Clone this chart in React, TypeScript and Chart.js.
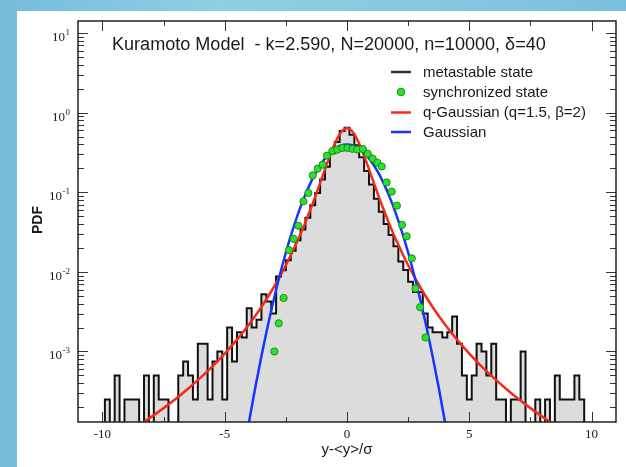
import React, { useEffect, useRef } from 'react';
import { Chart, registerables } from 'chart.js';

Chart.register(...registerables);

// ---------- data ----------
const HIST_X = [
  -10.2, -10.0, -9.8, -9.6, -9.4, -9.2, -9.0, -8.8, -8.6, -8.4, -8.2, -8.0, -7.8, -7.6, -7.4, -7.2, -7.0,
  -6.8, -6.6, -6.4, -6.2, -6.0, -5.8, -5.6, -5.4, -5.2, -5.0, -4.8, -4.6, -4.4, -4.2, -4.0, -3.8, -3.6,
  -3.4, -3.2, -3.0, -2.8, -2.6, -2.4, -2.2, -2.0, -1.8, -1.6, -1.4, -1.2, -1.0, -0.8, -0.6, -0.4, -0.2,
  0.0, 0.2, 0.4, 0.6, 0.8, 1.0, 1.2, 1.4, 1.6, 1.8, 2.0, 2.2, 2.4, 2.6, 2.8, 3.0, 3.2, 3.4, 3.6, 3.8,
  4.0, 4.2, 4.4, 4.6, 4.8, 5.0, 5.2, 5.4, 5.6, 5.8, 6.0, 6.2, 6.4, 6.6, 6.8, 7.0, 7.2, 7.4, 7.6, 7.8,
  8.0, 8.2, 8.4, 8.6, 8.8, 9.0, 9.2, 9.4, 9.6, 9.8, 10.0, 10.2,
];
const HIST_Y = [
  0, 0, 0.00025, 0, 0.0005, 0, 0.00025, 0.00025, 0.00025, 0, 0.0005, 0, 0.0005, 0.00025, 0.00025, 0, 0,
  0.0005, 0.00075, 0.0005, 0.00025, 0.00125, 0.00125, 0.00025, 0.00075, 0.001, 0.00025, 0.002, 0.00075, 0.00175, 0.0015, 0.0035, 0.002, 0.0025,
  0.00525, 0.00425, 0.003, 0.00875, 0.0105, 0.014, 0.0185, 0.025, 0.034, 0.048, 0.069, 0.098, 0.145, 0.21, 0.31, 0.43, 0.59,
  0.645, 0.53, 0.39, 0.275, 0.185, 0.125, 0.083, 0.057, 0.04, 0.029, 0.021, 0.0135, 0.0106, 0.0075, 0.0056, 0.0056, 0.003, 0.002, 0.00175, 0.00175,
  0.0015, 0.00175, 0.00275, 0.00125, 0.0005, 0.00025, 0.0005, 0.00125, 0.001, 0.0005, 0.00125, 0.00025, 0.00025, 0, 0.00025, 0.00025, 0.001, 0, 0, 0.00025,
  0, 0.00025, 0, 0.0005, 0.00025, 0.00025, 0.00025, 0.0005, 0.00025, 0, 0, 0,
];

const SYNC_X = [
  -2.97, -2.79, -2.59, -2.37, -2.18, -1.99, -1.78, -1.58, -1.4, -1.2, -1.0, -0.82, -0.6, -0.4, -0.19, 0.02,
  0.22, 0.42, 0.65, 0.85, 1.05, 1.24, 1.42, 1.62, 1.83, 2.04, 2.25, 2.44, 2.65, 2.8, 2.99, 3.21,
];
const SYNC_Y = [
  0.001, 0.00226, 0.0047, 0.0188, 0.026, 0.038, 0.077, 0.098, 0.163, 0.198, 0.222, 0.289, 0.33, 0.343, 0.36, 0.36,
  0.352, 0.345, 0.35, 0.305, 0.265, 0.235, 0.211, 0.133, 0.102, 0.068, 0.039, 0.028, 0.0148, 0.0062, 0.0036, 0.0015,
];

const GAUSS_X = [
  -4.25, -4.0, -3.75, -3.5, -3.25, -3.0, -2.75, -2.5, -2.25, -2.0, -1.75, -1.5, -1.25, -1.0, -0.75, -0.5, -0.25,
  0, 0.25, 0.5, 0.75, 1.0, 1.25, 1.5, 1.75, 2.0, 2.25, 2.5, 2.75, 3.0, 3.25, 3.5, 3.75, 4.0, 4.25,
];
const GAUSS_Y = [
  4.77e-5, 1.338e-4, 3.53e-4, 8.73e-4, 0.002029, 0.004432, 0.00909, 0.01753, 0.0317, 0.054, 0.0863, 0.1295, 0.1826, 0.242, 0.3011, 0.3521, 0.3867,
  0.3989, 0.3867, 0.3521, 0.3011, 0.242, 0.1826, 0.1295, 0.0863, 0.054, 0.0317, 0.01753, 0.00909, 0.004432, 0.002029, 8.73e-4, 3.53e-4, 1.338e-4, 4.77e-5,
];

const QG_X = [
  -8.5, -8.0, -7.5, -7.0, -6.5, -6.0, -5.5, -5.0, -4.5, -4.0, -3.5, -3.0, -2.5, -2.0, -1.75, -1.5, -1.25, -1.0, -0.75, -0.5, -0.25,
  0, 0.25, 0.5, 0.75, 1.0, 1.25, 1.5, 1.75, 2.0, 2.5, 3.0, 3.5, 4.0, 4.5, 5.0, 5.5, 6.0, 6.5, 7.0, 7.5, 8.0, 8.5,
];
const QG_Y = [
  1.186e-4, 1.507e-4, 1.942e-4, 2.546e-4, 3.4e-4, 4.65e-4, 6.52e-4, 9.42e-4, 0.00141, 0.002203, 0.003626, 0.006366, 0.01211, 0.02546, 0.03857, 0.06027, 0.09695, 0.15915, 0.2608, 0.4074, 0.5639,
  0.6366, 0.5639, 0.4074, 0.2608, 0.15915, 0.09695, 0.06027, 0.03857, 0.02546, 0.01211, 0.006366, 0.003626, 0.002203, 0.00141, 9.42e-4, 6.52e-4, 4.65e-4, 3.4e-4, 2.546e-4, 1.942e-4, 1.507e-4, 1.186e-4,
];

const X_MAJOR = [-10, -5, 0, 5, 10];
const X_MINOR = [-7.5, -2.5, 2.5, 7.5];
const X_LABELS = ['-10', '-5', '0', '5', '10'];
const Y_EXPONENTS = [1, 0, -1, -2, -3];

const TITLE = 'Kuramoto Model  - k=2.590, N=20000, n=10000, \u03b4=40';
const LEGEND = ['metastable state', 'synchronized state', 'q-Gaussian (q=1.5, \u03b2=2)', 'Gaussian'];
const X_TITLE = 'y-<y>/\u03c3';
const Y_TITLE = 'PDF';

const COLORS = {
  hist: '#111111',
  histFill: '#dcdcdc',
  red: '#f52a1a',
  blue: '#1436ff',
  green: '#2ee02e',
  greenEdge: '#179017',
  text: '#1a1a1a',
};

const SERIF = '"Liberation Serif", "DejaVu Serif", serif';
const SANS = '"Liberation Sans", Arial, sans-serif';

const decor = {
  id: 'decor',
  afterDraw(chart: any) {
    const ctx: CanvasRenderingContext2D = chart.ctx;
    const { left, right, top, bottom } = chart.chartArea;
    const xs = chart.scales.x;
    const ys = chart.scales.y;
    ctx.save();

    const seg = (x1: number, y1: number, x2: number, y2: number) => {
      ctx.beginPath();
      ctx.moveTo(x1, y1);
      ctx.lineTo(x2, y2);
      ctx.stroke();
    };

    // ticks (inward, on all sides)
    ctx.strokeStyle = '#333';
    ctx.lineWidth = 1;
    X_MAJOR.forEach((v) => {
      const p = Math.round(xs.getPixelForValue(v)) + 0.5;
      seg(p, bottom, p, bottom - 10);
      seg(p, top, p, top + 10);
    });
    X_MINOR.forEach((v) => {
      const p = Math.round(xs.getPixelForValue(v)) + 0.5;
      seg(p, bottom, p, bottom - 5);
      seg(p, top, p, top + 5);
    });
    for (let d = -4; d <= 1; d++) {
      for (let m = 1; m <= 9; m++) {
        const v = m * Math.pow(10, d);
        if (v < ys.min || v > ys.max) continue;
        const p = Math.round(ys.getPixelForValue(v)) + 0.5;
        const len = m === 1 ? 10 : 6;
        seg(left, p, left + len, p);
        seg(right, p, right - len, p);
      }
    }

    // frame
    ctx.strokeStyle = '#222';
    ctx.lineWidth = 1.5;
    ctx.strokeRect(left, top, right - left, bottom - top);

    ctx.fillStyle = COLORS.text;

    // x tick labels
    ctx.font = `13px ${SERIF}`;
    ctx.textAlign = 'center';
    ctx.textBaseline = 'middle';
    X_MAJOR.forEach((v, i) => {
      ctx.fillText(X_LABELS[i], xs.getPixelForValue(v), bottom + 13);
    });

    // y tick labels: 10^e
    Y_EXPONENTS.forEach((e) => {
      const p = ys.getPixelForValue(Math.pow(10, e));
      const ex = String(e);
      ctx.font = `9px ${SERIF}`;
      ctx.textAlign = 'right';
      ctx.textBaseline = 'middle';
      const ew = ctx.measureText(ex).width;
      ctx.fillText(ex, left - 8, p - 0.5);
      ctx.font = `13px ${SERIF}`;
      ctx.fillText('10', left - 8 - ew - 0.5, p + 4.5);
    });

    // title, fitted to the reference width
    ctx.textAlign = 'left';
    ctx.textBaseline = 'alphabetic';
    ctx.font = `16px ${SANS}`;
    const tw = ctx.measureText(TITLE).width;
    const tsize = (16 * 434) / tw;
    ctx.font = `${tsize.toFixed(2)}px ${SANS}`;
    ctx.fillText(TITLE, 112, 50);

    // legend
    const lx = 391;
    const lx2 = 411;
    const tx = 423;
    const rows = [72, 92, 112.5, 132];
    ctx.lineCap = 'butt';
    ctx.lineWidth = 2.5;
    ctx.strokeStyle = '#333';
    seg(lx, rows[0], lx2, rows[0]);
    ctx.beginPath();
    ctx.arc((lx + lx2) / 2, rows[1], 3.8, 0, Math.PI * 2);
    ctx.fillStyle = COLORS.green;
    ctx.fill();
    ctx.lineWidth = 1;
    ctx.strokeStyle = COLORS.greenEdge;
    ctx.stroke();
    ctx.lineWidth = 2.5;
    ctx.strokeStyle = COLORS.red;
    seg(lx, rows[2], lx2, rows[2]);
    ctx.strokeStyle = COLORS.blue;
    seg(lx, rows[3], lx2, rows[3]);

    ctx.fillStyle = COLORS.text;
    ctx.font = `15px ${SANS}`;
    ctx.textAlign = 'left';
    ctx.textBaseline = 'middle';
    LEGEND.forEach((t, i) => ctx.fillText(t, tx, rows[i] + 0.5));

    // axis titles
    ctx.textAlign = 'center';
    ctx.fillText(X_TITLE, 347, 450);
    ctx.save();
    ctx.translate(38, 220);
    ctx.rotate(-Math.PI / 2);
    ctx.font = `bold 14px ${SANS}`;
    ctx.fillText(Y_TITLE, 0, 0);
    ctx.restore();

    ctx.restore();
  },
};

export default function App() {
  const ref = useRef<HTMLCanvasElement>(null);

  useEffect(() => {
    const floor = (v: number) => (v > 0 ? v : 1e-7);
    const chart = new Chart(ref.current as HTMLCanvasElement, {
      type: 'line',
      data: {
        datasets: [
          {
            label: LEGEND[1],
            data: SYNC_X.map((x, i) => ({ x, y: SYNC_Y[i] })),
            showLine: false,
            pointRadius: 3.6,
            pointBackgroundColor: COLORS.green,
            pointBorderColor: COLORS.greenEdge,
            pointBorderWidth: 1,
            order: 0,
          },
          {
            label: LEGEND[3],
            data: GAUSS_X.map((x, i) => ({ x, y: GAUSS_Y[i] })),
            borderColor: COLORS.blue,
            borderWidth: 2.5,
            pointRadius: 0,
            cubicInterpolationMode: 'monotone',
            fill: false,
            order: 1,
          },
          {
            label: LEGEND[2],
            data: QG_X.map((x, i) => ({ x, y: QG_Y[i] })),
            borderColor: COLORS.red,
            borderWidth: 2.5,
            pointRadius: 0,
            cubicInterpolationMode: 'monotone',
            fill: false,
            order: 2,
          },
          {
            label: LEGEND[0],
            data: HIST_X.map((x, i) => ({ x, y: floor(HIST_Y[i]) })),
            stepped: 'middle',
            borderColor: COLORS.hist,
            borderWidth: 2,
            backgroundColor: COLORS.histFill,
            fill: 'start',
            pointRadius: 0,
            order: 3,
          },
        ] as any,
      },
      options: {
        responsive: false,
        animation: false,
        events: [],
        layout: { padding: { left: 78, top: 21, right: 10, bottom: 45 } },
        scales: {
          x: { type: 'linear', min: -11, max: 11, display: false, bounds: 'data' },
          y: { type: 'logarithmic', min: 1.3e-4, max: 14.2, display: false, bounds: 'data' },
        },
        plugins: {
          legend: { display: false },
          tooltip: { enabled: false },
          title: { display: false },
        },
      } as any,
      plugins: [decor],
    });
    return () => chart.destroy();
  }, []);

  return (
    <div
      style={{
        position: 'fixed',
        left: 0,
        top: 0,
        width: 626,
        height: 467,
        overflow: 'hidden',
        background: 'linear-gradient(90deg, #74bddb 0%, #8fcfe5 35%, #86c8e0 70%, #79c0dc 100%)',
      }}
    >
      <div
        style={{
          position: 'absolute',
          left: 17,
          top: 11,
          right: 0,
          bottom: 0,
          background: '#ffffff',
        }}
      />
      <canvas
        ref={ref}
        width={626}
        height={467}
        style={{ position: 'absolute', left: 0, top: 0, width: 626, height: 467 }}
      />
    </div>
  );
}
